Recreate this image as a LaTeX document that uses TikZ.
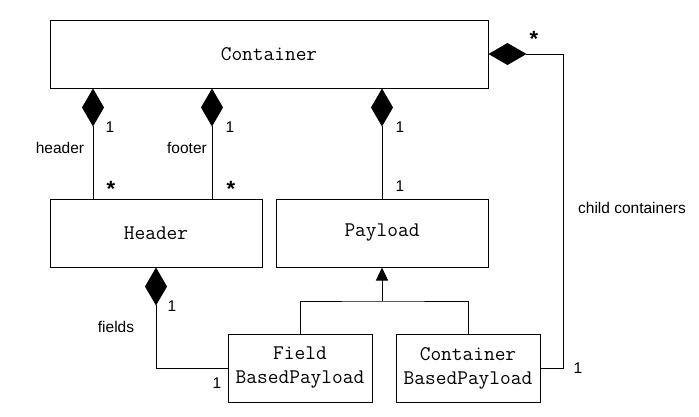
\documentclass[tikz,border=0pt]{standalone}
\usepackage{fontspec}
\setmainfont{Liberation Sans}
\usetikzlibrary{arrows.meta}
\tikzset{
  classbox/.style={draw,line width=1pt,minimum height=68pt,inner sep=0pt,align=center,
    font=\ttfamily\fontsize{20.8}{24}\selectfont},
  lbl/.style={inner sep=0pt,font=\fontsize{15.5}{18}\selectfont},
  manylbl/.style={inner sep=0pt,font=\bfseries\fontsize{22}{24}\selectfont},
  comp/.style={line width=1pt,-{Diamond[length=38pt,width=22pt]}},
  inh/.style={line width=1pt,-{Triangle[length=13pt,width=12pt]}}
}

\begin{document}
\begin{tikzpicture}[line cap=butt,line join=miter,x=1pt,y=-1pt]
\useasboundingbox[fill=white] (0,0) rectangle (699,416);
% classes
\node[classbox,minimum width=438pt] (Container) at (269,54) {Container};
\node[classbox,minimum width=212pt] (Header) at (156,233) {Header};
\node[classbox,minimum width=212pt] (Payload) at (382,233) {Payload};
\node[classbox,minimum width=144pt] (FieldBasedPayload) at (300,368) {Field\\BasedPayload};
\node[classbox,minimum width=144pt] (ContainerBasedPayload) at (468,368) {Container\\BasedPayload};
% helper points
\coordinate (hdrx) at (93,0);
\coordinate (ftrx) at (212,0);
\coordinate (childx) at (563,0);
\coordinate (split) at (382,301);
% compositions
\draw[comp] (Header.north -| hdrx) -- (Container.south -| hdrx);
\draw[comp] (Header.north -| ftrx) -- (Container.south -| ftrx);
\draw[comp] (Payload.north) -- (Container.south -| Payload.north);
\draw[comp] (FieldBasedPayload.west) -| (Header.south);
\draw[comp] (ContainerBasedPayload.east) -| (childx |- Container.east) -- (Container.east);
% inheritance
\draw[line width=1pt] (FieldBasedPayload.north) |- (split) -| (ContainerBasedPayload.north);
\draw[inh] (split) -- (Payload.south);
% labels
\node[lbl] (hdrone) at (110,127) {1};
\node[lbl] (hdrname) at (60,148) {header};
\node[manylbl] (hdrmany) at (111,189) {*};
\node[lbl] (ftrone) at (230,127) {1};
\node[lbl] (ftrname) at (187,148) {footer};
\node[manylbl] (ftrmany) at (231,189) {*};
\node[lbl] (plone) at (400,127) {1};
\node[lbl] (pltwo) at (400,186) {1};
\node[manylbl] (childmany) at (534,39) {*};
\node[lbl] (childname) at (632,208) {child containers};
\node[lbl] (childone) at (578,368) {1};
\node[lbl] (fldone) at (172,306) {1};
\node[lbl] (fldname) at (116,327) {fields};
\node[lbl] (fldtwo) at (217,383) {1};
\end{tikzpicture}
\end{document}
